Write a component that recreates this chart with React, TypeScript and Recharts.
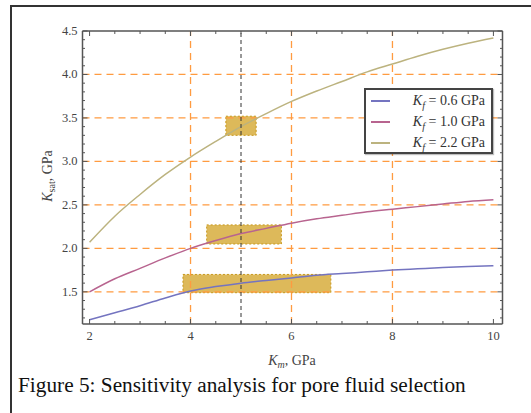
import React from "react";
import {
  LineChart,
  Line,
  XAxis,
  YAxis,
  ReferenceLine,
  ReferenceArea,
  Label,
} from "recharts";

// K_m, GPa
const km = [2, 2.5, 3, 3.5, 4, 4.5, 5, 5.5, 6, 6.5, 7, 7.5, 8, 8.5, 9, 9.5, 10];
// K_sat for each fluid modulus
const ksat06 = [1.18, 1.26, 1.34, 1.43, 1.51, 1.56, 1.6, 1.63, 1.66, 1.69, 1.71, 1.73, 1.75, 1.765, 1.78, 1.79, 1.8];
const ksat10 = [1.5, 1.65, 1.77, 1.89, 2.0, 2.09, 2.17, 2.23, 2.29, 2.34, 2.38, 2.42, 2.45, 2.48, 2.51, 2.54, 2.56];
const ksat22 = [2.07, 2.37, 2.62, 2.85, 3.05, 3.23, 3.4, 3.55, 3.69, 3.81, 3.92, 4.03, 4.12, 4.21, 4.29, 4.36, 4.42];

const xTicks = [2, 2.5, 3, 3.5, 4, 4.5, 5, 5.5, 6, 6.5, 7, 7.5, 8, 8.5, 9, 9.5, 10];
const xMajor = [2, 4, 6, 8, 10];
const yTicks = [
  1.2, 1.3, 1.4, 1.5, 1.6, 1.7, 1.8, 1.9, 2.0, 2.1, 2.2, 2.3, 2.4, 2.5, 2.6, 2.7, 2.8,
  2.9, 3.0, 3.1, 3.2, 3.3, 3.4, 3.5, 3.6, 3.7, 3.8, 3.9, 4.0, 4.1, 4.2, 4.3, 4.4, 4.5,
];
const yMajor = [1.5, 2.0, 2.5, 3.0, 3.5, 4.0, 4.5];
const gridX = [4, 6, 8];
const gridY = [1.5, 2.0, 2.5, 3.0, 3.5, 4.0];
const markerX = 5;

// selection boxes: [x1, x2, y1, y2]
const boxes = [
  [4.7, 5.3, 3.3, 3.52],
  [4.32, 5.8, 2.05, 2.27],
  [3.85, 6.78, 1.49, 1.7],
];

const series = [
  { key: "kf06", name: "0.6", values: ksat06, color: "#7474c0" },
  { key: "kf10", name: "1.0", values: ksat10, color: "#b8648f" },
  { key: "kf22", name: "2.2", values: ksat22, color: "#bcb37f" },
];

const data = km.map((x, i) => {
  const row: any = { km: x };
  series.forEach((s) => (row[s.key] = s.values[i]));
  return row;
});

const FONT = '"Liberation Serif", "Times New Roman", serif';
const FRAME = "#555";

const isMajor = (v: number, list: number[]) =>
  list.some((m) => Math.abs(m - v) < 1e-6);

const makeXTick = (side: "bottom" | "top") => (props: any) => {
  const { x, y, payload } = props;
  const v = payload.value;
  const major = isMajor(v, xMajor);
  const len = major ? 5 : 3;
  const dir = side === "bottom" ? -1 : 1;
  return (
    <g>
      <line x1={x} y1={y} x2={x} y2={y + dir * len} stroke={FRAME} strokeWidth={1} />
      {side === "bottom" && major && (
        <text
          x={x}
          y={y + 16}
          textAnchor="middle"
          fill="#444"
          style={{ fontFamily: FONT, fontSize: 12.5 }}
        >
          {v}
        </text>
      )}
    </g>
  );
};

const makeYTick = (side: "left" | "right") => (props: any) => {
  const { x, y, payload } = props;
  const v = payload.value;
  const major = isMajor(v, yMajor);
  const len = major ? 5 : 2.5;
  const dir = side === "left" ? 1 : -1;
  return (
    <g>
      <line x1={x} y1={y} x2={x + dir * len} y2={y} stroke={FRAME} strokeWidth={1} />
      {side === "left" && major && (
        <text
          x={x - 5}
          y={y + 4}
          textAnchor="end"
          fill="#444"
          style={{ fontFamily: FONT, fontSize: 12.5 }}
        >
          {v.toFixed(1)}
        </text>
      )}
    </g>
  );
};

export default function App() {
  return (
    <div
      style={{
        position: "fixed",
        left: 0,
        top: 0,
        width: 531,
        height: 413,
        background: "#fff",
        overflow: "hidden",
        fontFamily: FONT,
      }}
    >
      <div
        style={{
          position: "absolute",
          left: 10,
          top: 5,
          width: 600,
          height: 500,
          borderLeft: "2px solid #333",
          borderTop: "2px solid #333",
        }}
      />
      <div style={{ position: "absolute", left: 0, top: 0 }}>
        <LineChart
          width={531}
          height={380}
          data={data}
          margin={{ top: 30, right: 27.5, left: 40.5, bottom: 26 }}
        >
          <XAxis
            xAxisId="b"
            dataKey="km"
            type="number"
            domain={[1.86, 10.18]}
            allowDataOverflow
            ticks={xTicks}
            interval={0}
            height={30}
            tickSize={0}
            tickMargin={0}
            tickLine={false}
            axisLine={{ stroke: FRAME, strokeWidth: 1.5 }}
            tick={makeXTick("bottom")}
          >
            <Label
              content={() => (
                <text
                  x={292}
                  y={365}
                  textAnchor="middle"
                  fill="#444"
                  style={{ fontFamily: FONT, fontSize: 14 }}
                >
                  <tspan fontStyle="italic">K</tspan>
                  <tspan fontStyle="italic" fontSize={10} dy={3}>m</tspan>
                  <tspan dy={-3}>, GPa</tspan>
                </text>
              )}
            />
          </XAxis>
          <XAxis
            xAxisId="t"
            dataKey="km"
            type="number"
            orientation="top"
            domain={[1.86, 10.18]}
            allowDataOverflow
            ticks={xTicks}
            interval={0}
            height={1}
            tickSize={0}
            tickMargin={0}
            tickLine={false}
            axisLine={{ stroke: FRAME, strokeWidth: 1.5 }}
            tick={makeXTick("top")}
          />
          <YAxis
            yAxisId="l"
            type="number"
            domain={[1.13, 4.5]}
            allowDataOverflow
            ticks={yTicks}
            interval={0}
            width={42}
            tickSize={0}
            tickMargin={0}
            tickLine={false}
            axisLine={{ stroke: FRAME, strokeWidth: 1.5 }}
            tick={makeYTick("left")}
          >
            <Label
              content={() => (
                <text
                  transform="translate(52,176) rotate(-90)"
                  textAnchor="middle"
                  fill="#444"
                  style={{ fontFamily: FONT, fontSize: 14 }}
                >
                  <tspan fontStyle="italic">K</tspan>
                  <tspan fontSize={10} dy={3}>sat</tspan>
                  <tspan dy={-3}>, GPa</tspan>
                </text>
              )}
            />
          </YAxis>
          <YAxis
            yAxisId="r"
            type="number"
            orientation="right"
            domain={[1.13, 4.5]}
            allowDataOverflow
            ticks={yTicks}
            interval={0}
            width={1}
            tickSize={0}
            tickMargin={0}
            tickLine={false}
            axisLine={{ stroke: FRAME, strokeWidth: 1.5 }}
            tick={makeYTick("right")}
          />

          {gridX.map((v) => (
            <ReferenceLine
              key={"gx" + v}
              xAxisId="b"
              yAxisId="l"
              x={v}
              stroke="#ff9b40"
              strokeWidth={1.3}
              strokeDasharray="7 5"
            />
          ))}
          {gridY.map((v) => (
            <ReferenceLine
              key={"gy" + v}
              xAxisId="b"
              yAxisId="l"
              y={v}
              stroke="#ff9b40"
              strokeWidth={1.3}
              strokeDasharray="7 5"
            />
          ))}

          {series.map((s) => (
            <Line
              key={s.key}
              xAxisId="b"
              yAxisId="l"
              dataKey={s.key}
              type="monotone"
              stroke={s.color}
              strokeWidth={1.5}
              dot={false}
              isAnimationActive={false}
            />
          ))}

          {boxes.map((b, i) => (
            <ReferenceArea
              key={"box" + i}
              xAxisId="b"
              yAxisId="l"
              x1={b[0]}
              x2={b[1]}
              y1={b[2]}
              y2={b[3]}
              fill="#d6aa36"
              fillOpacity={0.82}
              stroke="#c8981c"
              strokeDasharray="2 2"
              strokeWidth={1}
            />
          ))}

          <ReferenceLine
            xAxisId="b"
            yAxisId="l"
            x={markerX}
            stroke="#333"
            strokeWidth={1}
            strokeDasharray="4 3"
          />
        </LineChart>
      </div>

      <div
        style={{
          position: "absolute",
          left: 364,
          top: 88,
          width: 125,
          height: 62,
          border: "2px solid #444",
          background: "#fff",
          boxShadow: "1px 1px 1px rgba(0,0,0,0.25)",
        }}
      >
        {series.map((s, i) => (
          <div
            key={s.key}
            style={{
              position: "absolute",
              left: 0,
              top: 1 + i * 21,
              width: 125,
              height: 20,
            }}
          >
            <div
              style={{
                position: "absolute",
                left: 5,
                top: 9,
                width: 19,
                height: 0,
                borderTop: `2px solid ${s.color}`,
              }}
            />
            <div
              style={{
                position: "absolute",
                right: 6,
                top: 0,
                fontSize: 14,
                lineHeight: "20px",
                color: "#333",
                whiteSpace: "nowrap",
              }}
            >
              <i>K</i>
              <sub style={{ fontSize: 10, lineHeight: 0 }}>
                <i>f</i>
              </sub>{" "}
              = {s.name} GPa
            </div>
          </div>
        ))}
      </div>

      <div
        style={{
          position: "absolute",
          left: 18,
          top: 375,
          fontSize: 21.3,
          lineHeight: 1,
          color: "#111",
          whiteSpace: "nowrap",
        }}
      >
        Figure 5: Sensitivity analysis for pore fluid selection
      </div>
    </div>
  );
}
